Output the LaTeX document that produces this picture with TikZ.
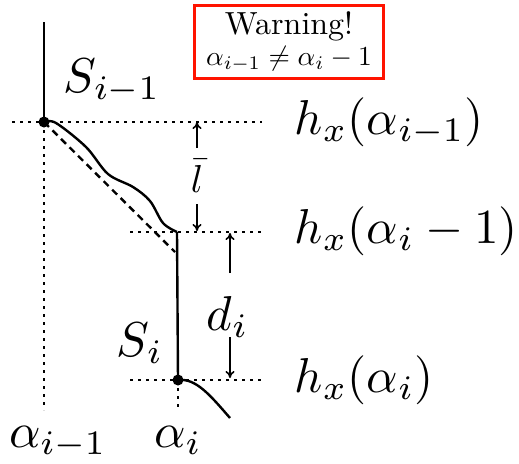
\documentclass[tikz,border=0pt]{standalone}
\usepackage{graphicx}
\usetikzlibrary{arrows.meta}
\begin{document}
\begin{tikzpicture}[x=1pt,y=-1pt,
  solidline/.style={line width=2.4pt},
  dotline/.style={line width=2.6pt,dash pattern=on 2.6pt off 5.4pt},
  dashline/.style={line width=2.4pt,dash pattern=on 7pt off 5pt},
  arr/.style={line width=1.6pt,-{To[length=7pt,width=9pt]}},
  biglabel/.style={inner sep=0pt,scale=4.9},
  barlabel/.style={inner sep=0pt,scale=3.9},
  warnbox/.style={draw=red!85!orange,line width=3pt,inner sep=0pt,align=center,minimum width=189pt,minimum height=73pt},
  dotmark/.style={circle,fill=black,inner sep=0pt,minimum size=11pt}]
\useasboundingbox (0,0) rectangle (519,463);
% key points
\coordinate (top) at (44,22);
\coordinate (A) at (44,122);
\coordinate (B) at (177,232);
\coordinate (C) at (178,380);
\coordinate (Aend) at (44,410);
\coordinate (Cend) at (178,410);
\coordinate (dashend) at (175,252);
\coordinate (curveend) at (230,418);
\coordinate (h1l) at (12,122);
\coordinate (h1r) at (262,122);
\coordinate (h2l) at (130,232);
\coordinate (h2r) at (264,232);
\coordinate (h3l) at (130,380);
\coordinate (h3r) at (264,380);
% dotted guide lines
\draw[dotline] (h1l) -- (h1r);
\draw[dotline] (h2l) -- (h2r);
\draw[dotline] (h3l) -- (h3r);
\draw[dotline] (A) -- (Aend);
\draw[dotline] (C) -- (Cend);
% solid lines
\draw[solidline] (top) -- (A);
\draw[solidline] (B) -- (C);
\draw[dashline] (A) -- (dashend);
\draw[solidline] plot[smooth,tension=0.55] coordinates {(A) (56,123) (86,147) (108,174) (133,187) (150,201) (163,223) (B)};
\draw[solidline] (C) .. controls (196,378) and (210,395) .. (curveend);
% points
\node[dotmark] (dA) at (A) {};
\node[dotmark] (dC) at (C) {};
% arrows
\node[barlabel,anchor=base] (lbar) at (197,192) {$\bar{l}$};
\coordinate (lt) at (197,148);
\coordinate (lb) at (197,204);
\coordinate (lhead1) at (197,122);
\coordinate (lhead2) at (197,231);
\draw[arr] (lt) -- (lhead1);
\draw[arr] (lb) -- (lhead2);
\node[biglabel,anchor=base west] (di) at (206,330) {$d_i$};
\coordinate (dt) at (230,273);
\coordinate (db) at (230,337);
\coordinate (dhead1) at (230,233);
\coordinate (dhead2) at (230,378);
\draw[arr] (dt) -- (dhead1);
\draw[arr] (db) -- (dhead2);
% labels
\node[biglabel,anchor=base west] (S1) at (63,92) {$S_{i-1}$};
\node[biglabel,anchor=base west] (S2) at (116,356) {$S_i$};
\node[biglabel,anchor=base] (a1) at (58,447) {$\alpha_{i-1}$};
\node[biglabel,anchor=base] (a2) at (178,447) {$\alpha_i$};
\node[biglabel,anchor=west] (hx1) at (294,122) {$h_x(\alpha_{i-1})$};
\node[biglabel,anchor=west] (hx2) at (294,231) {$h_x(\alpha_i-1)$};
\node[biglabel,anchor=west] (hx3) at (294,380) {$h_x(\alpha_i)$};
\node[warnbox] (warn) at (289,42) {\scalebox{3.2}{Warning!}\\[4pt]\scalebox{2.75}{$\alpha_{i-1}\neq\alpha_i-1$}};
\end{tikzpicture}
\end{document}
